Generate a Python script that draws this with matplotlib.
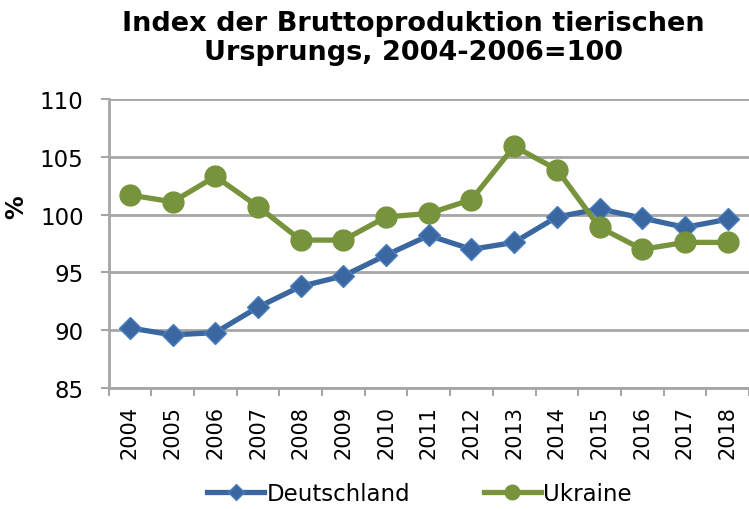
import matplotlib
matplotlib.use('Agg')
import matplotlib.pyplot as plt
import numpy as np

plt.rcParams.update({
    'font.family': ['DejaVu Sans'],
    'figure.facecolor': 'white',
    'axes.facecolor': 'white',
})

years = ['2004', '2005', '2006', '2007', '2008', '2009', '2010', '2011',
         '2012', '2013', '2014', '2015', '2016', '2017', '2018']
deutschland = [90.2, 89.6, 89.8, 92.0, 93.8, 94.7, 96.5, 98.2,
               97.0, 97.6, 99.8, 100.5, 99.7, 98.9, 99.6]
ukraine = [101.7, 101.1, 103.3, 100.7, 97.8, 97.8, 99.8, 100.1,
           101.3, 105.9, 103.9, 98.9, 97.0, 97.6, 97.6]
y_ticks = [85, 90, 95, 100, 105, 110]

BLUE = '#3A67A0'
GREEN = '#77933C'
GRID = '#A6A6A6'

fig = plt.figure(figsize=(7.49, 5.10), dpi=100)
ax = fig.add_axes([0.145, 0.237, 0.855, 0.567])

x = np.arange(len(years))
ax.plot(x, deutschland, color=BLUE, lw=3.8, marker='D', markersize=11,
        markeredgecolor='#4A7EBF', markeredgewidth=1, label='Deutschland', zorder=3)
ax.plot(x, ukraine, color=GREEN, lw=3.8, marker='o', markersize=15,
        markeredgecolor=GREEN, label='Ukraine', zorder=3)

ax.set_ylim(85, 110)
ax.set_yticks(y_ticks)
ax.set_xlim(-0.5, 14.38)
ax.set_xticks(x)
ax.set_xticklabels(years, rotation=90)
ax.set_xticks(np.arange(-0.5, 14.6, 1), minor=True)
ax.tick_params(axis='x', which='major', length=0, labelsize=15, pad=12)
ax.tick_params(axis='x', which='minor', length=6, width=1.5, color=GRID)
ax.tick_params(axis='y', length=6, width=1.5, color=GRID, labelsize=16.5, pad=12)

ax.yaxis.grid(True, color=GRID, lw=2)
ax.set_axisbelow(True)
for s in ['top', 'right']:
    ax.spines[s].set_visible(False)
for s in ['left', 'bottom']:
    ax.spines[s].set_color(GRID)
    ax.spines[s].set_linewidth(2)

ax.set_ylabel('%', fontsize=17, fontweight='bold')
ax.yaxis.set_label_coords(-0.126, 0.63)

fig.text(0.552, 0.978, 'Index der Bruttoproduktion tierischen\nUrsprungs, 2004-2006=100',
         ha='center', va='top', fontsize=19.5, fontweight='bold', linespacing=1.15)

fig.legend(loc='lower center', bbox_to_anchor=(0.56, -0.032), ncol=2, frameon=False,
           fontsize=16.5, handlelength=2.5, handletextpad=0.1, columnspacing=3.2,
           markerscale=0.7)

fig.savefig('out.png', dpi=100)
